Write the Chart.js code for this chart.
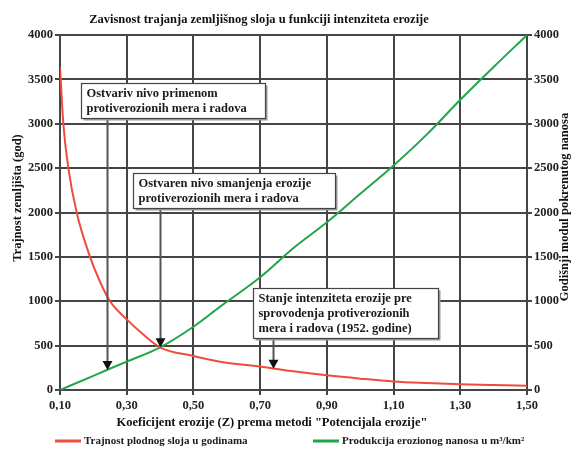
<!DOCTYPE html>
<html lang="sr">
<head>
<meta charset="UTF-8">
<title>Zavisnost trajanja zemljišnog sloja</title>
<script src="https://cdn.jsdelivr.net/npm/chart.js"></script>
<style>
  html, body { margin: 0; padding: 0; background: #fff; }
  #wrap { width: 572px; height: 449px; }
</style>
</head>
<body>
<div id="wrap"><canvas id="chart" width="572" height="449"></canvas></div>
<script>
// podaci ocitani sa grafika
const seriesNames = ['Trajnost plodnog sloja u godinama', 'Produkcija erozionog nanosa u m³/km²'];
const redZ = [0.10, 0.11, 0.125, 0.15, 0.19, 0.22, 0.25, 0.30, 0.35, 0.40, 0.50, 0.58, 0.70, 0.80, 0.90, 1.00, 1.10, 1.20, 1.30, 1.40, 1.50];
const redValues = [3640, 3000, 2500, 2000, 1500, 1220, 1000, 796, 625, 481, 383, 319, 265, 210, 165, 128, 96, 78, 64, 55, 48];
const greenZ = [0.10, 0.20, 0.24, 0.30, 0.40, 0.50, 0.58, 0.70, 0.80, 0.90, 1.00, 1.10, 1.20, 1.30, 1.40, 1.50];
const greenValues = [0, 160, 225, 319, 481, 713, 939, 1270, 1600, 1890, 2210, 2530, 2880, 3270, 3640, 4000];
const xTickValues = [0.10, 0.30, 0.50, 0.70, 0.90, 1.10, 1.30, 1.50];
const yTickValues = [0, 500, 1000, 1500, 2000, 2500, 3000, 3500, 4000];

const chartTitle = 'Zavisnost trajanja zemljišnog sloja u funkciji intenziteta erozije';
const xTitle = 'Koeficijent erozije (Z) prema metodi "Potencijala erozije"';
const yTitle = 'Trajnost zemljišta (god)';
const y1Title = 'Godišnji modul pokrenutog nanosa';

// napomene (okviri sa strelicama), u koordinatama podataka
const notes = [
  { lines: ['Ostvariv nivo primenom', 'protiverozionih mera i radova'],
    left: 0.163, right: 0.715, top: 3460, bottom: 3065, arrowZ: 0.24, arrowTo: 225, axis: 'y1' },
  { lines: ['Ostvaren nivo smanjenja erozije', 'protiverozionih mera i radova'],
    left: 0.319, right: 0.925, top: 2445, bottom: 2050, arrowZ: 0.40, arrowTo: 481, axis: 'y' },
  { lines: ['Stanje intenziteta erozije pre', 'sprovodenja protiverozionih', 'mera i radova (1952. godine)'],
    left: 0.679, right: 1.234, top: 1150, bottom: 586, arrowZ: 0.74, arrowTo: 240, axis: 'y' }
];

const serif = "'Liberation Serif', 'Times New Roman', serif";
const gridColor = '#454545';
const redColor = '#ef4c3c';
const greenColor = '#20a64a';

function fmtZ(v) { return v.toFixed(2).replace('.', ','); }

function drawText(ctx, text, x, y, rot) {
  ctx.save();
  ctx.translate(x, y);
  if (rot) ctx.rotate(rot);
  ctx.fillText(text, 0, 0);
  ctx.restore();
}

const notesPlugin = {
  id: 'notes',
  afterDatasetsDraw(chart) {
    const ctx = chart.ctx;
    const xs = chart.scales.x, ys = chart.scales.y;
    ctx.save();
    notes.forEach(n => {
      const l = Math.round(xs.getPixelForValue(n.left)) + 0.5;
      const r = Math.round(xs.getPixelForValue(n.right)) + 0.5;
      const t = Math.round(ys.getPixelForValue(n.top)) + 0.5;
      const b = Math.round(ys.getPixelForValue(n.bottom)) + 0.5;
      // strelica
      const ax = Math.round(xs.getPixelForValue(n.arrowZ)) + 0.5;
      const ay = chart.scales[n.axis].getPixelForValue(n.arrowTo);
      ctx.strokeStyle = '#555';
      ctx.lineWidth = 2;
      ctx.beginPath();
      ctx.moveTo(ax, b);
      ctx.lineTo(ax, ay - 6);
      ctx.stroke();
      ctx.fillStyle = '#111';
      ctx.beginPath();
      ctx.moveTo(ax, ay);
      ctx.lineTo(ax - 5, ay - 9);
      ctx.lineTo(ax + 5, ay - 9);
      ctx.closePath();
      ctx.fill();
      // okvir
      ctx.fillStyle = '#9a9a9a';
      ctx.fillRect(l + 2, t + 2, r - l, b - t);
      ctx.fillStyle = '#fff';
      ctx.fillRect(l, t, r - l, b - t);
      ctx.strokeStyle = '#444';
      ctx.lineWidth = 1.2;
      ctx.strokeRect(l, t, r - l, b - t);
      ctx.fillStyle = '#1a1a1a';
      ctx.font = 'bold 12.5px ' + serif;
      ctx.textBaseline = 'middle';
      ctx.textAlign = 'left';
      const pad = ((b - t) - n.lines.length * 15) / 2;
      n.lines.forEach((s, i) => ctx.fillText(s, l + 5, t + pad + 8 + i * 15));
    });
    ctx.restore();
  },
  afterDraw(chart) {
    const ctx = chart.ctx;
    ctx.save();
    ctx.fillStyle = '#111';
    ctx.textAlign = 'center';
    ctx.textBaseline = 'middle';
    // naslovi
    ctx.font = 'bold 12.5px ' + serif;
    drawText(ctx, chartTitle, 259, 20);
    drawText(ctx, xTitle, 272, 423);
    drawText(ctx, yTitle, 18, 198, -Math.PI / 2);
    drawText(ctx, y1Title, 565, 207, -Math.PI / 2);

    // legenda ispod grafika
    const starts = [55, 313];
    const y = 441;
    ctx.font = 'bold 11px ' + serif;
    ctx.textAlign = 'left';
    chart.data.datasets.forEach((ds, i) => {
      const x = starts[i];
      ctx.strokeStyle = ds.borderColor;
      ctx.lineWidth = 3;
      ctx.beginPath();
      ctx.moveTo(x, y);
      ctx.lineTo(x + 26, y);
      ctx.stroke();
      ctx.fillStyle = '#1a1a1a';
      ctx.fillText(ds.label, x + 29, y);
    });
    ctx.restore();
  }
};

const tickFont = { family: serif, size: 12.5, weight: 'bold' };

new Chart(document.getElementById('chart'), {
  type: 'line',
  data: {
    datasets: [
      {
        label: seriesNames[0],
        data: redZ.map((z, i) => ({ x: z, y: redValues[i] })),
        borderColor: redColor,
        backgroundColor: redColor,
        borderWidth: 2,
        pointRadius: 0,
        cubicInterpolationMode: 'monotone',
        yAxisID: 'y'
      },
      {
        label: seriesNames[1],
        data: greenZ.map((z, i) => ({ x: z, y: greenValues[i] })),
        borderColor: greenColor,
        backgroundColor: greenColor,
        borderWidth: 2,
        pointRadius: 0,
        cubicInterpolationMode: 'monotone',
        yAxisID: 'y1'
      }
    ]
  },
  options: {
    responsive: false,
    animation: false,
    layout: { padding: { left: 0, right: 0, top: 35, bottom: 17 } },
    plugins: {
      legend: { display: false },
      tooltip: { enabled: false },
      title: { display: false }
    },
    scales: {
      x: {
        type: 'linear',
        min: 0.1,
        max: 1.5,
        afterBuildTicks: s => { s.ticks = xTickValues.map(v => ({ value: v })); },
        afterFit: s => { s.height = 42; },
        ticks: { callback: v => fmtZ(v), font: tickFont, color: '#222', padding: 3, maxRotation: 0 },
        grid: { color: gridColor, lineWidth: 2, tickLength: 5 },
        border: { color: gridColor, width: 2 }
      },
      y: {
        position: 'left',
        min: 0,
        max: 4000,
        afterBuildTicks: s => { s.ticks = yTickValues.map(v => ({ value: v })); },
        afterFit: s => { s.width = 60; },
        ticks: { callback: v => String(v), font: tickFont, color: '#222', padding: 2 },
        grid: { color: gridColor, lineWidth: 2, tickLength: 5 },
        border: { color: gridColor, width: 2 }
      },
      y1: {
        position: 'right',
        min: 0,
        max: 4000,
        afterBuildTicks: s => { s.ticks = yTickValues.map(v => ({ value: v })); },
        afterFit: s => { s.width = 45; },
        ticks: { callback: v => String(v), font: tickFont, color: '#222', padding: 2 },
        grid: { drawOnChartArea: false, color: gridColor, lineWidth: 2, tickLength: 5 },
        border: { color: gridColor, width: 2 }
      }
    }
  },
  plugins: [notesPlugin]
});
</script>
</body>
</html>
